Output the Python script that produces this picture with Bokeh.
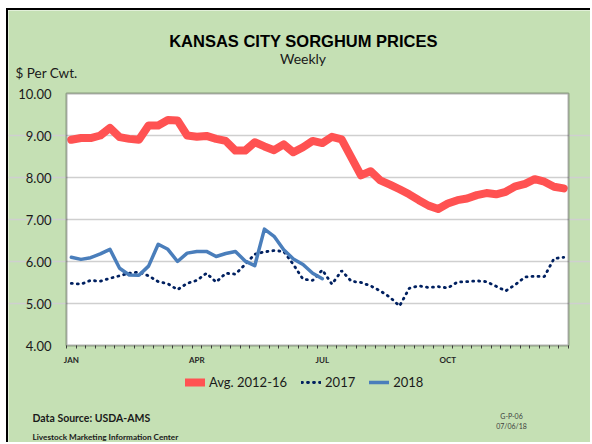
from bokeh.plotting import figure
from bokeh.models import (FixedTicker, Label, Legend, LegendItem, Range1d,
                          NumeralTickFormatter, InlineStyleSheet, BoxAnnotation)
from bokeh.embed import file_html
from bokeh.resources import INLINE

# ---------------- data ----------------
month_ticks = [0.5, 13.5, 26.5, 39.5]
month_labels = ["JAN", "APR", "JUL", "OCT"]

avg_2012_16 = [8.90, 8.94, 8.94, 9.00, 9.18, 8.96, 8.92, 8.90, 9.24, 9.24,
               9.37, 9.36, 9.00, 8.97, 8.99, 8.92, 8.87, 8.64, 8.64, 8.84,
               8.74, 8.65, 8.79, 8.60, 8.72, 8.87, 8.82, 8.97, 8.91, 8.48,
               8.05, 8.15, 7.93, 7.83, 7.72, 7.60, 7.46, 7.33, 7.25, 7.38,
               7.46, 7.50, 7.58, 7.63, 7.60, 7.66, 7.79, 7.85, 7.96, 7.90,
               7.78, 7.74]

y2017 = [5.48, 5.46, 5.55, 5.53, 5.60, 5.66, 5.72, 5.75, 5.66, 5.52,
         5.47, 5.33, 5.48, 5.55, 5.72, 5.51, 5.72, 5.70, 5.93, 6.17,
         6.23, 6.26, 6.24, 5.93, 5.58, 5.55, 5.80, 5.46, 5.78, 5.53,
         5.50, 5.42, 5.30, 5.15, 4.94, 5.36, 5.42, 5.38, 5.40, 5.37,
         5.51, 5.52, 5.54, 5.52, 5.41, 5.30, 5.45, 5.63, 5.65, 5.64,
         6.07, 6.10]

y2018 = [6.10, 6.05, 6.09, 6.18, 6.29, 5.84, 5.68, 5.67, 5.89, 6.41,
         6.29, 6.00, 6.20, 6.24, 6.24, 6.12, 6.19, 6.24, 6.01, 5.90,
         6.77, 6.60, 6.28, 6.06, 5.93, 5.72, 5.59]

y_ticks = [4, 5, 6, 7, 8, 9, 10]

# ---------------- geometry ----------------
GREEN = "#C5E0B4"
N_WEEKS = 52
Y_MIN, Y_MAX = 4, 10
W, H = 584, 434            # canvas, placed at page (8, 10) after margin + border
CANVAS_X0, CANVAS_Y0 = 8, 10
PLOT_L, PLOT_R, PLOT_T, PLOT_B = 66, 568, 93, 345   # page pixels of the plot area
PX_PER_X = (PLOT_R - PLOT_L) / N_WEEKS
PX_PER_Y = (PLOT_B - PLOT_T) / (Y_MAX - Y_MIN)


def dx(px):
    return (px - PLOT_L) / PX_PER_X


def dy(py):
    return Y_MAX - (py - PLOT_T) / PX_PER_Y


p = figure(width=W, height=H, output_backend="svg", toolbar_location=None,
           x_range=Range1d(dx(CANVAS_X0), dx(CANVAS_X0 + W)),
           y_range=Range1d(dy(CANVAS_Y0 + H), dy(CANVAS_Y0)),
           min_border=0, min_border_left=0, min_border_right=0,
           min_border_top=0, min_border_bottom=0)
p.margin = (8, 0, 0, 6)
p.stylesheets = [InlineStyleSheet(
    css=":host { border-left: 2px solid black; border-top: 2px solid black; }")]
p.border_fill_color = GREEN
p.background_fill_color = GREEN
p.outline_line_color = None
p.xgrid.visible = False
p.ygrid.grid_line_color = "#CFCFCF"
p.ygrid.grid_line_width = 1.5
p.ygrid.bounds = (0, N_WEEKS)
p.ygrid.ticker = FixedTicker(ticks=y_ticks[1:-1])

# white plot area and its black frame
p.add_layout(BoxAnnotation(left=0, right=N_WEEKS, bottom=Y_MIN, top=Y_MAX,
                           fill_color="white", fill_alpha=1,
                           line_color=None, level="image"))
p.add_layout(BoxAnnotation(left=0, right=N_WEEKS, bottom=Y_MIN, top=Y_MAX,
                           fill_alpha=0, line_color="black", line_width=2,
                           level="overlay"))

# x axis
xa = p.xaxis[0]
xa.fixed_location = Y_MIN
xa.bounds = (0, N_WEEKS)
xa.ticker = FixedTicker(ticks=month_ticks, minor_ticks=list(range(N_WEEKS + 1)))
xa.major_label_overrides = {t: l for t, l in zip(month_ticks, month_labels)}
xa.axis_line_color = None
xa.major_tick_line_color = None
xa.major_tick_out = 0
xa.major_tick_in = 0
xa.minor_tick_line_color = "#404040"
xa.minor_tick_out = 3
xa.minor_tick_in = 0
xa.major_label_standoff = 6
xa.major_label_text_font = "Lato"
xa.major_label_text_font_style = "bold"
xa.major_label_text_font_size = "8px"
xa.major_label_text_color = "#262626"

# y axis
ya = p.yaxis[0]
ya.fixed_location = 0
ya.bounds = (Y_MIN, Y_MAX)
ya.ticker = FixedTicker(ticks=y_ticks, minor_ticks=[])
ya.formatter = NumeralTickFormatter(format="0.00")
ya.axis_line_color = None
ya.major_tick_line_color = None
ya.major_tick_out = 0
ya.major_tick_in = 0
ya.major_label_standoff = 15
ya.major_label_text_font = "Lato"
ya.major_label_text_font_size = "13px"
ya.major_label_text_color = "#1a1a1a"

x_avg = [i + 0.5 for i in range(len(avg_2012_16))]
x_17 = [i + 0.5 for i in range(len(y2017))]
x_18 = [i + 0.5 for i in range(len(y2018))]

r_avg = p.line(x_avg, avg_2012_16, line_color="#FF5252", line_width=8,
               line_join="round", line_cap="round")
r_17 = p.line(x_17, y2017, line_color="#002060", line_width=2.8,
              line_dash="1 5", line_cap="round")
r_18 = p.line(x_18, y2018, line_color="#4A7EBB", line_width=3.5,
              line_join="round", line_cap="round")

legend = Legend(items=[LegendItem(label="Avg. 2012-16", renderers=[r_avg]),
                       LegendItem(label="2017", renderers=[r_17]),
                       LegendItem(label="2018", renderers=[r_18])],
                orientation="horizontal", location=(177, 54),
                padding=0, margin=0, spacing=14, label_standoff=4,
                glyph_width=20, glyph_height=16, label_height=16,
                border_line_color=None, background_fill_alpha=0,
                label_text_font="Lato", label_text_font_size="13px",
                label_text_color="#1a1a1a")
p.add_layout(legend, "center")

BASELINE_FIX = 0.37   # empirical shift of the rendered baseline, in ems


def lab(text, px, py, size, font="Lato", style="normal", align="left",
        color="#1a1a1a"):
    p.add_layout(Label(x=dx(px), y=dy(py - BASELINE_FIX * size), text=text,
                       text_font=font, text_font_style=style,
                       text_font_size=f"{size}px", text_align=align,
                       text_baseline="alphabetic", text_color=color))


lab("KANSAS CITY SORGHUM PRICES", 303, 46.5, 16.5,
    font="Liberation Sans", style="bold", align="center", color="black")
lab("Weekly", 302.5, 63.5, 14, align="center")
lab("$ Per Cwt.", 15, 77.5, 13.5)
lab("Data Source:  USDA-AMS", 32, 421.5, 10.5, style="bold")
lab("Livestock Marketing Information Center", 32, 440, 8.2, style="bold")
lab("G-P-06", 511, 418.5, 7, align="center", color="#404040")
lab("07/06/18", 511, 428.5, 7, align="center", color="#404040")

open("out.html", "w").write(file_html(p, INLINE))
